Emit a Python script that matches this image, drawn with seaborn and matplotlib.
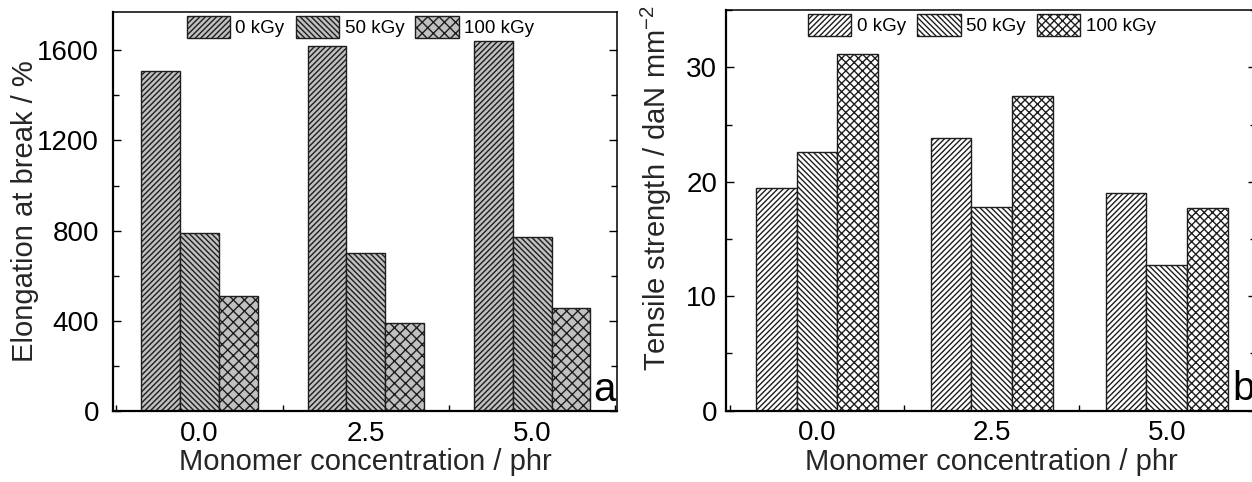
import matplotlib
matplotlib.use("Agg")
import matplotlib.pyplot as plt
import pandas as pd
import seaborn as sns
from matplotlib.ticker import MultipleLocator, FixedLocator

# Monomer concentration groups (phr) and irradiation doses
concentrations = ["0.0", "2.5", "5.0"]
doses = ["0 kGy", "50 kGy", "100 kGy"]

# Elongation at break (%)
elong_0kgy = [1510, 1620, 1640]
elong_50kgy = [790, 700, 770]
elong_100kgy = [510, 390, 455]

# Tensile strength (daN mm^-2)
tensile_0kgy = [19.5, 23.8, 19.0]
tensile_50kgy = [22.6, 17.8, 12.75]
tensile_100kgy = [31.2, 27.5, 17.7]

hatches_elong = ["//////", "\\" * 6, "xxx"]
hatches_tensile = ["//////", "\\" * 6, "xxxx"]


def long_table(series):
    rows = []
    for dose, vals in zip(doses, series):
        for conc, v in zip(concentrations, vals):
            rows.append({"conc": conc, "dose": dose, "value": v})
    return pd.DataFrame(rows)


df_elong = long_table([elong_0kgy, elong_50kgy, elong_100kgy])
df_tensile = long_table([tensile_0kgy, tensile_50kgy, tensile_100kgy])

sns.set_style("ticks")
plt.rcParams["font.family"] = ["Liberation Sans", "DejaVu Sans"]
plt.rcParams["mathtext.fontset"] = "custom"
plt.rcParams["mathtext.rm"] = "Liberation Sans"
plt.rcParams["mathtext.it"] = "Liberation Sans"
plt.rcParams["hatch.linewidth"] = 1.0
plt.rcParams["axes.edgecolor"] = "black"
plt.rcParams["xtick.color"] = "black"
plt.rcParams["ytick.color"] = "black"
plt.rcParams["text.color"] = "black"

fig = plt.figure(figsize=(12.52, 4.82), dpi=100)
ax1 = fig.add_axes([0.0903, 0.1473, 0.4025, 0.8278])
ax2 = fig.add_axes([0.5799, 0.1479, 0.4233, 0.8311])


def draw_panel(ax, df, fill, hatches, ylim, major, minor, ylabel, letter, legend_x,
               ytick_pad):
    sns.barplot(data=df, x="conc", y="value", hue="dose", order=concentrations,
                hue_order=doses, palette=[fill] * 3, saturation=1, width=0.7,
                errorbar=None, edgecolor="#1e1e1e", linewidth=1.0, legend=False, ax=ax)
    for container, hatch in zip(ax.containers, hatches):
        for patch in container:
            patch.set_hatch(hatch)
    ax.set_xlim(-0.52, 2.51)
    ax.set_ylim(*ylim)
    ax.yaxis.set_major_locator(MultipleLocator(major))
    ax.yaxis.set_minor_locator(MultipleLocator(minor))
    ax.xaxis.set_minor_locator(FixedLocator([-0.5, 0.5, 1.5, 2.5]))
    ax.tick_params(axis="both", which="both", direction="in", top=False, right=True,
                   labelsize=20, width=1.0)
    ax.tick_params(axis="both", which="major", length=6)
    ax.tick_params(axis="both", which="minor", length=4)
    ax.tick_params(axis="y", which="major", pad=ytick_pad)
    ax.tick_params(axis="x", which="major", pad=7)
    for side in ["left", "bottom"]:
        ax.spines[side].set_linewidth(1.6)
    for side in ["top", "right"]:
        ax.spines[side].set_linewidth(1.1)
    ax.set_xlabel("Monomer concentration / phr", fontsize=21)
    ax.set_ylabel(ylabel, fontsize=21)
    ax.text(0.997, 0.026, letter, transform=ax.transAxes, ha="right", va="baseline",
            fontsize=29)
    ax.legend(ax.containers, doses, loc="upper center", bbox_to_anchor=(legend_x, 1.0),
              ncol=3, frameon=False, fontsize=13.5, handlelength=2.3, handleheight=1.45,
              handletextpad=0.3, columnspacing=0.6, borderaxespad=0.1, borderpad=0.1)


draw_panel(ax1, df_elong, "#c0c0c0", hatches_elong, (0, 1770), 400, 200,
           "Elongation at break / %", "a", 0.491, 10)
draw_panel(ax2, df_tensile, "white", hatches_tensile, (0, 35), 10, 5,
           "Tensile strength / daN mm$^{-2}$", "b", 0.483, 6.5)

ax1.yaxis.set_label_coords(-0.147, 0.5)
ax2.yaxis.set_label_coords(-0.098, 0.556)
ax1.xaxis.set_label_coords(0.5, -0.0925)
ax2.xaxis.set_label_coords(0.5, -0.0925)

fig.savefig("out.png", dpi=100)
